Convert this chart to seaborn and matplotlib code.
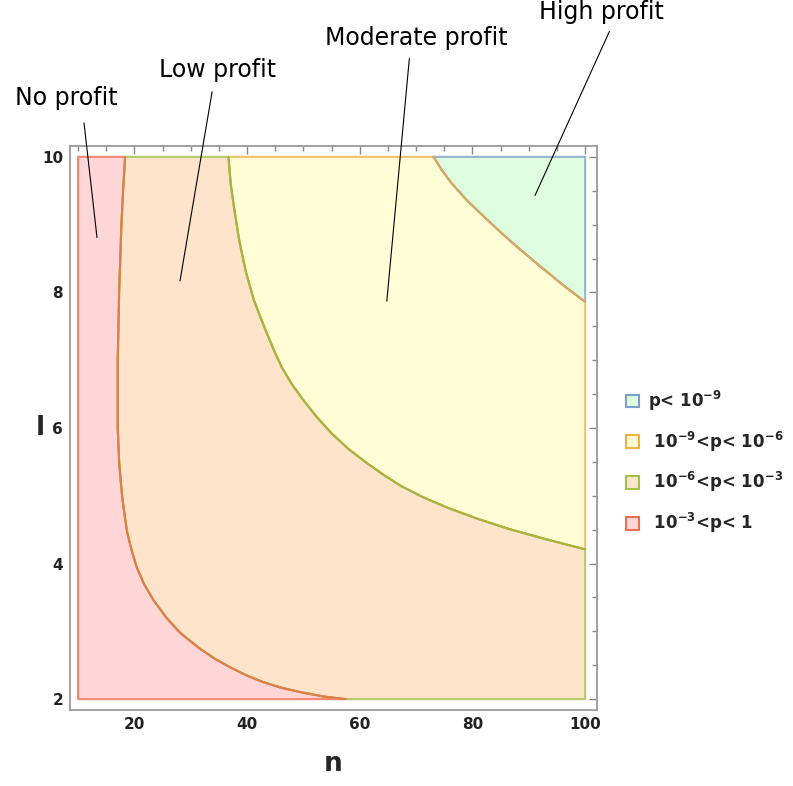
import numpy as np
import matplotlib
matplotlib.use('Agg')
import matplotlib.pyplot as plt
import seaborn as sns
from matplotlib.patches import Patch
from matplotlib.ticker import MultipleLocator

## Datos: contornos de p (n, l)
# frontera p = 10^-3
n_p3 = [18.35, 18.0, 17.7, 17.3, 17.05, 17.05, 17.3, 17.6, 17.9, 18.3, 18.75, 19.5, 20.4, 21.7, 23.4, 25.7, 28.1,
        31.7, 34.2, 37.0, 39.9, 42.9, 46.0, 49.4, 53.5, 57.5]
l_p3 = [10.0, 9.5, 9.0, 8.0, 7.0, 6.0, 5.5, 5.2, 4.94, 4.7, 4.45, 4.2, 3.95, 3.7, 3.46, 3.2, 2.98,
        2.74, 2.60, 2.47, 2.35, 2.25, 2.17, 2.105, 2.04, 2.0]
# frontera p = 10^-6
n_p6 = [36.7, 37.1, 37.6, 38.6, 39.8, 41.2, 42.3, 43.5, 44.8, 46.2, 48.0, 50.0, 52.4, 55.0, 58.0, 61.3, 64.2,
        67.2, 71.2, 75.4, 80.6, 86.1, 93.0, 100.0]
l_p6 = [10.0, 9.6, 9.3, 8.77, 8.3, 7.89, 7.65, 7.40, 7.14, 6.89, 6.64, 6.41, 6.16, 5.92, 5.69, 5.48, 5.31,
        5.15, 4.98, 4.83, 4.67, 4.52, 4.36, 4.21]
# frontera p = 10^-9
n_p9 = [73.1, 74.6, 76.3, 79.0, 82.0, 85.1, 88.5, 92.1, 96.2, 100.0]
l_p9 = [10.0, 9.8, 9.61, 9.36, 9.12, 8.88, 8.63, 8.38, 8.10, 7.86]

n_min, n_max = 10, 100
l_min, l_max = 2, 10

etiquetas = ['p< $10^{-9}$', ' $10^{-9}$<p< $10^{-6}$', ' $10^{-6}$<p< $10^{-3}$', ' $10^{-3}$<p< 1']
fill_cols = ['#DEFDDE', '#FFFDD6', '#FDE4CB', '#FFD6D8']
edge_cols = ['#7E9FCB', '#EDB246', '#A3BF45', '#EE7050']

anotaciones = ['No profit', 'Low profit', 'Moderate profit', 'High profit']
anot_punto = [(13.37, 8.81), (28.1, 8.17), (64.8, 7.87), (91.1, 9.43)]
anot_inicio = [(11.07, 10.50), (33.8, 10.96), (68.8, 11.45), (104.3, 11.85)]
anot_texto = [(7.87, 10.87), (34.85, 11.28), (70.0, 11.76), (102.8, 12.14)]

sns.set_style('white')
plt.rcParams['font.family'] = ['DejaVu Sans']
plt.rcParams['mathtext.default'] = 'bf'

fig = plt.figure(figsize=(7.93, 7.86), dpi=100)
ax = fig.add_axes([70 / 793, 76 / 786, 527 / 793, 564 / 786])

n3, l3 = np.array(n_p3), np.array(l_p3)
n6, l6 = np.array(n_p6), np.array(l_p6)
n9, l9 = np.array(n_p9), np.array(l_p9)

# regiones (poligonos a partir de las fronteras)
roja_x = np.concatenate([[n_min], n3, [n_min]])
roja_y = np.concatenate([[l_max], l3, [l_min]])
peach_x = np.concatenate([n3, [n_max, n_max], n6[::-1]])
peach_y = np.concatenate([l3, [l_min, l6[-1]], l6[::-1]])
amar_x = np.concatenate([n6, [n_max], n9[::-1]])
amar_y = np.concatenate([l6, [l9[-1]], l9[::-1]])
verde_x = np.concatenate([n9, [n_max]])
verde_y = np.concatenate([l9, [l_max]])

for xs, ys, i in [(roja_x, roja_y, 3), (peach_x, peach_y, 2), (amar_x, amar_y, 1), (verde_x, verde_y, 0)]:
    ax.fill(xs, ys, facecolor=fill_cols[i], edgecolor='none', zorder=1)
    xc = np.append(xs, xs[0])
    yc = np.append(ys, ys[0])
    ax.plot(xc, yc, color=edge_cols[i], lw=1.5, alpha=0.8, zorder=2, solid_joinstyle='round')

# curvas con seaborn
sns.lineplot(x=n3, y=l3, sort=False, estimator=None, color='#DE7E48', lw=1.5, ax=ax, zorder=3)
sns.lineplot(x=n6, y=l6, sort=False, estimator=None, color='#A3B53F', lw=1.5, ax=ax, zorder=3)
sns.lineplot(x=n9, y=l9, sort=False, estimator=None, color='#D8A860', lw=1.5, ax=ax, zorder=3)

ax.set_xlim(8.58, 102.1)
ax.set_ylim(1.84, 10.16)

ax.xaxis.set_major_locator(MultipleLocator(20))
ax.xaxis.set_minor_locator(MultipleLocator(5))
ax.yaxis.set_major_locator(MultipleLocator(2))
ax.yaxis.set_minor_locator(MultipleLocator(0.5))
ax.tick_params(which='both', direction='in', top=True, right=True, color='#888888', width=1)
ax.tick_params(which='major', length=6, labelsize=11, labelcolor='#222222', pad=5)
ax.tick_params(which='minor', length=3.5)
for lab in ax.get_xticklabels() + ax.get_yticklabels():
    lab.set_fontweight('bold')
for s in ax.spines.values():
    s.set_color('#999999')
    s.set_linewidth(1.3)

ax.set_xlabel('n', fontsize=19, fontweight='bold', labelpad=14)
ax.set_ylabel('l', fontsize=19, fontweight='bold', rotation=0, va='center', ha='center')
ax.yaxis.set_label_coords(-30 / 527, 0.5)

# anotaciones
for txt, p, p0, pt in zip(anotaciones, anot_punto, anot_inicio, anot_texto):
    ax.plot([p0[0], p[0]], [p0[1], p[1]], color='black', lw=0.8, clip_on=False, zorder=5)
    ax.text(pt[0], pt[1], txt, fontsize=17, ha='center', va='center', color='black', clip_on=False)

handles = [Patch(facecolor=f, edgecolor=e, linewidth=1.5) for f, e in zip(fill_cols, edge_cols)]
fig.legend(handles, etiquetas, loc='center left', bbox_to_anchor=(611 / 793, 1 - 462 / 786),
           frameon=False, prop={'weight': 'bold', 'size': 12}, handlelength=0.8, handleheight=0.8,
           labelspacing=1.0, handletextpad=0.5)

plt.savefig('out.png', dpi=100)
